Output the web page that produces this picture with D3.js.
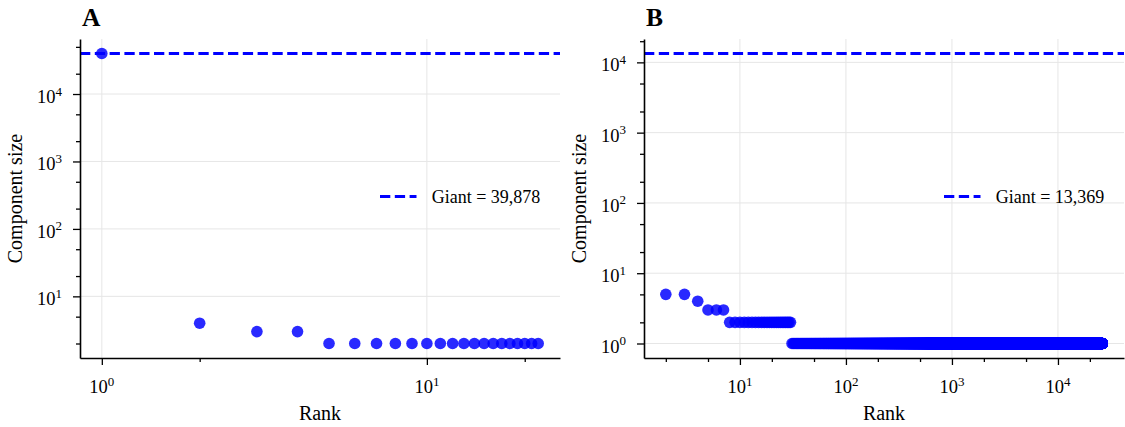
<!DOCTYPE html>
<html>
<head>
<meta charset="utf-8">
<script src="https://cdn.jsdelivr.net/npm/d3@7"></script>
<style>
  body { margin: 0; background: #fff; }
  text { font-family: "Liberation Serif", "Times New Roman", serif; fill: #000; }
</style>
</head>
<body>
<svg id="chart" width="1125" height="427"></svg>
<script>
// panel A: component sizes (rank ordered, giant first) and how many of each
const sizesA = [39878, 4, 3, 2];
const countsA = [1, 1, 2, 18];
const giantA = 39878;
const firstRankA = 1;

// panel B: giant not drawn as a point, ranks start at 2
const sizesB = [5, 4, 3, 2, 1];
const countsB = [2, 1, 3, 23, 26100];
const giantB = 13369;
const firstRankB = 2;

const minorXA = [2, 20];
const minorXB = [2, 5, 20, 50, 200, 500, 2000, 5000, 20000];
const minorY = [2, 5, 20, 50, 200, 500, 2000, 5000, 20000, 50000];

const svg = d3.select("#chart");
const plotW = 480, plotH = 319, marginTop = 39;
const blue = "#0000ff";

function expand(sizes, counts, start){
    let out = [];
    let r = start;
    sizes.forEach((s, i) => {
        for(let k = 0; k < counts[i]; k++) out.push({rank: r++, size: s});
    });
    return out;
}

// matplotlib style 5% margin in log space
function padLog(lo, hi){
    let a = Math.log10(lo), b = Math.log10(hi), m = (b - a) * 0.05;
    return [Math.pow(10, a - m), Math.pow(10, b + m)];
}

function majors(domain){
    let out = [];
    for(let e = Math.ceil(Math.log10(domain[0]) - 1e-9); e <= Math.floor(Math.log10(domain[1]) + 1e-9); e++) out.push(e);
    return out;
}

function drawPanel(opt){
    let data = expand(opt.sizes, opt.counts, opt.firstRank);
    let maxRank = data[data.length - 1].rank;
    let minSize = d3.min(data, d => d.size);
    let maxSize = Math.max(d3.max(data, d => d.size), opt.giant);

    let xScale = d3.scaleLog().domain(padLog(data[0].rank, maxRank)).range([0, plotW]);
    let yScale = d3.scaleLog().domain(padLog(minSize, maxSize)).range([plotH, 0]);

    let g = svg.append("g").attr("transform", "translate(" + opt.left + "," + marginTop + ")");

    let xMaj = majors(xScale.domain());
    let yMaj = majors(yScale.domain());

    // grid
    g.append("g").selectAll("line").data(xMaj).enter().append("line")
        .attr("x1", e => xScale(Math.pow(10, e))).attr("x2", e => xScale(Math.pow(10, e)))
        .attr("y1", 0).attr("y2", plotH)
        .attr("stroke", "#e6e6e6").attr("stroke-width", 1);
    g.append("g").selectAll("line").data(yMaj).enter().append("line")
        .attr("y1", e => yScale(Math.pow(10, e))).attr("y2", e => yScale(Math.pow(10, e)))
        .attr("x1", 0).attr("x2", plotW)
        .attr("stroke", "#e6e6e6").attr("stroke-width", 1);

    // giant line
    g.append("line")
        .attr("x1", 0).attr("x2", plotW)
        .attr("y1", yScale(opt.giant)).attr("y2", yScale(opt.giant))
        .attr("stroke", blue).attr("stroke-width", 2.8)
        .attr("stroke-dasharray", "10.3,4.5");

    // points
    g.append("g").selectAll("circle").data(data).enter().append("circle")
        .attr("cx", d => xScale(d.rank))
        .attr("cy", d => yScale(d.size))
        .attr("r", 5.8)
        .attr("fill", blue)
        .attr("fill-opacity", 0.84);

    // axes
    let xMinor = opt.minorX.filter(v => v >= xScale.domain()[0] && v <= xScale.domain()[1]);
    let yMinor = minorY.filter(v => v >= yScale.domain()[0] && v <= yScale.domain()[1]);

    g.append("g").attr("transform", "translate(0," + plotH + ")")
        .call(d3.axisBottom(xScale).tickValues(xMaj.map(e => Math.pow(10, e))).tickSize(7).tickSizeOuter(0).tickFormat(""));
    g.append("g").attr("transform", "translate(0," + plotH + ")")
        .call(d3.axisBottom(xScale).tickValues(xMinor).tickSize(4).tickSizeOuter(0).tickFormat(""))
        .select(".domain").remove();
    g.append("g")
        .call(d3.axisLeft(yScale).tickValues(yMaj.map(e => Math.pow(10, e))).tickSize(7).tickSizeOuter(0).tickFormat(""));
    g.append("g")
        .call(d3.axisLeft(yScale).tickValues(yMinor).tickSize(4).tickSizeOuter(0).tickFormat(""))
        .select(".domain").remove();

    g.selectAll(".domain").attr("stroke", "#000").attr("stroke-width", 1.6);
    g.selectAll(".tick line").attr("stroke", "#000").attr("stroke-width", 1.3);

    // tick labels 10^e
    xMaj.forEach(e => {
        let t = g.append("text")
            .attr("x", xScale(Math.pow(10, e)))
            .attr("y", plotH + 35)
            .attr("text-anchor", "middle")
            .style("font-size", "18.5px");
        t.append("tspan").text("10");
        t.append("tspan").attr("dy", -7.5).style("font-size", "13px").text(e);
    });
    yMaj.forEach(e => {
        let t = g.append("text")
            .attr("x", -18)
            .attr("y", yScale(Math.pow(10, e)) + 9)
            .attr("text-anchor", "end")
            .style("font-size", "18.5px");
        t.append("tspan").text("10");
        t.append("tspan").attr("dy", -7.5).style("font-size", "13px").text(e);
    });

    // axis labels
    g.append("text")
        .attr("x", plotW / 2).attr("y", 420 - marginTop)
        .attr("text-anchor", "middle")
        .style("font-size", "20px")
        .text("Rank");
    g.append("text")
        .attr("transform", "translate(-58," + (plotH / 2) + ") rotate(-90)")
        .attr("text-anchor", "middle")
        .style("font-size", "20px")
        .text("Component size");

    // title
    g.append("text")
        .attr("x", 2).attr("y", 26 - marginTop)
        .style("font-size", "25.5px").style("font-weight", "bold")
        .text(opt.title);

    // legend
    let legY = 196.5 - marginTop;
    g.append("line")
        .attr("x1", plotW - 180).attr("x2", plotW - 143.5)
        .attr("y1", legY).attr("y2", legY)
        .attr("stroke", blue).attr("stroke-width", 2.8)
        .attr("stroke-dasharray", "10.3,4.5");
    g.append("text")
        .attr("x", plotW - 128.3).attr("y", legY + 6.5)
        .style("font-size", "18px")
        .text("Giant = " + d3.format(",")(opt.giant));
}

drawPanel({title: "A", left: 80, sizes: sizesA, counts: countsA, giant: giantA, firstRank: firstRankA, minorX: minorXA});
drawPanel({title: "B", left: 644, sizes: sizesB, counts: countsB, giant: giantB, firstRank: firstRankB, minorX: minorXB});
</script>
</body>
</html>
